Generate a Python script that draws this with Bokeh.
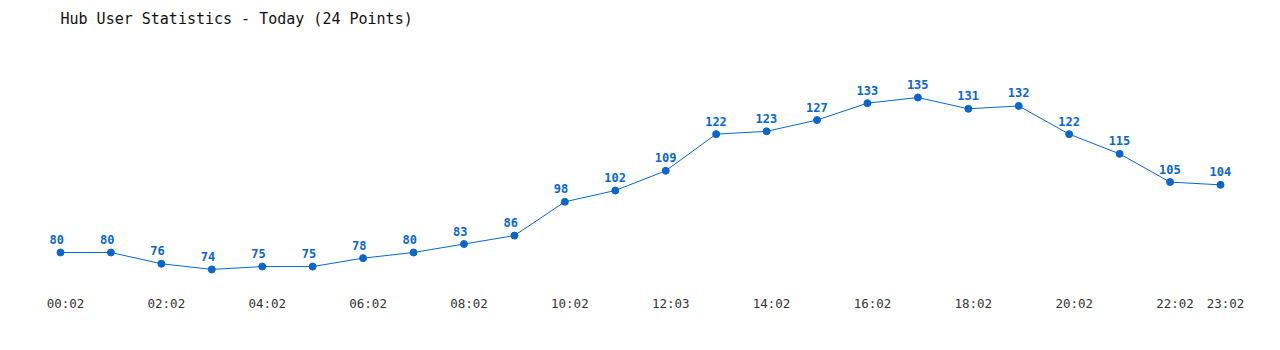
from bokeh.plotting import figure
from bokeh.models import Range1d, LinearAxis, FixedTicker, ColumnDataSource
from bokeh.core.properties import value
from bokeh.embed import file_html
from bokeh.resources import INLINE

times = ["00:02", "01:02", "02:02", "03:02", "04:02", "05:02", "06:02", "07:02",
         "08:02", "09:02", "10:02", "11:02", "12:03", "13:02", "14:02", "15:02",
         "16:02", "17:02", "18:02", "19:02", "20:02", "21:02", "22:02", "23:02"]
users = [80, 80, 76, 74, 75, 75, 78, 80, 83, 86, 98, 102, 109, 122, 123, 127,
         133, 135, 131, 132, 122, 115, 105, 104]
tick_idx = [0, 2, 4, 6, 8, 10, 12, 14, 16, 18, 20, 22, 23]
title_text = "Hub User Statistics - Today (24 Points)"

FONT = "DejaVu Sans Mono"
BLUE = "#0a66cc"
W, H = 1280, 350
TOP, BOTTOM = 0, 65
step = 50.435
left_px = 60
x0 = -left_px / step
x1 = (W - left_px) / step
frame_h = H - TOP - BOTTOM
ppu = 2.818
ref_v, ref_px = 80, 252 - TOP
y1 = ref_v + ref_px / ppu
y0 = ref_v - (frame_h - ref_px) / ppu

idx = list(range(len(users)))
src = ColumnDataSource(dict(x=idx, y=users, lab=[str(u) for u in users]))

p = figure(width=W, height=H, output_backend="svg", toolbar_location=None,
           x_range=Range1d(x0, x1), y_range=Range1d(y0, y1),
           min_border_left=0, min_border_right=0, min_border_top=TOP,
           min_border_bottom=BOTTOM, x_axis_location=None, y_axis_location=None)
p.outline_line_color = None
p.grid.visible = False
p.background_fill_color = "white"
p.border_fill_color = "white"

# title anchored at the top-left corner of the plotting area
p.text(x=[x0], y=[y1], text=[title_text], text_font=value(FONT),
       text_font_size="15px", text_color="#111111", text_align="left",
       text_baseline="middle", x_offset=left_px, y_offset=18)

d = 5 / step
p.extra_x_ranges["lab"] = Range1d(x0 - d, x1 - d)
ax = LinearAxis(x_range_name="lab", ticker=FixedTicker(ticks=tick_idx),
                major_label_overrides={i: times[i] for i in tick_idx})
ax.axis_line_color = None
ax.major_tick_line_color = None
ax.minor_tick_line_color = None
ax.major_tick_out = 0
ax.major_tick_in = 0
ax.major_label_standoff = 10
ax.major_label_text_font = FONT
ax.major_label_text_font_size = "12.5px"
ax.major_label_text_color = "#333333"
p.add_layout(ax, "below")

p.line("x", "y", source=src, line_color=BLUE, line_width=1)
p.scatter("x", "y", source=src, size=7, fill_color=BLUE, line_color=BLUE)
p.text("x", "y", text="lab", source=src, text_font=value(FONT),
       text_font_size="12px", text_font_style="bold", text_color=BLUE,
       text_align="left", text_baseline="middle", x_offset=-11, y_offset=-13)

open("out.html", "w").write(file_html(p, INLINE))
